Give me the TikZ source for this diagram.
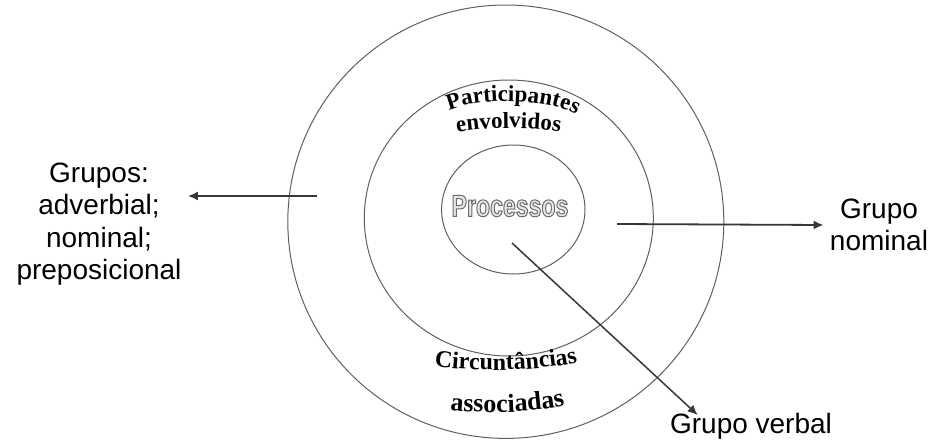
\documentclass[tikz,border=0pt]{standalone}
\usepackage{fontspec}
\newfontfamily\labelfont{Liberation Sans}
\newfontfamily\archfont{Liberation Serif}
\newfontfamily\procfont[FakeStretch=0.75]{Liberation Sans}
\usepackage{xcolor}
\definecolor{RingGray}{RGB}{95,95,95}
\definecolor{ArrowGray}{RGB}{55,55,55}
\definecolor{ProcFill}{RGB}{232,232,232}
\usetikzlibrary{arrows.meta, positioning, calc, decorations.text}

\begin{document}
\begin{tikzpicture}[x=0.5pt, y=-0.5pt,
	ring/.style={draw=RingGray, line width=0.5pt},
	lbl/.style={font=\labelfont\fontsize{14}{16.2}\selectfont, align=center, inner xsep=3pt, inner ysep=1pt},
	arr/.style={draw=ArrowGray, line width=0.9pt, -{Latex[length=5pt, width=4.5pt]}},
	archtext/.style={decorate, decoration={text along path, text align=center, text={#1}}}]
	\useasboundingbox (0,0) rectangle (932,445);
	% rings
	\foreach \cx/\cy/\rx/\ry in {505.8/221.7/218/216.7, 508.8/218/144.5/138, 513.3/209.5/71.7/64.5}{
		\draw[ring] (\cx,\cy) ellipse [x radius=\rx, y radius=\ry];}
	% ring texts
	\path[archtext={|\archfont\bfseries\fontsize{11.5}{13}\selectfont|Participantes}]
		(445,112.5) .. controls (470,97) and (555,97) .. (580,117.5);
	\path[archtext={|\archfont\bfseries\fontsize{11.5}{13}\selectfont|envolvidos}]
		(445,135.5) .. controls (475,125.5) and (550,125.5) .. (572,135.5);
	\path[archtext={|\archfont\bfseries\fontsize{12}{14}\selectfont|Circuntâncias}]
		(430,366) .. controls (470,372) and (540,372) .. (582,361);
	\path[archtext={|\archfont\bfseries\fontsize{13}{15}\selectfont|associadas}]
		(440,409) .. controls (475,414) and (540,414) .. (575,403);
	\node[text=ProcFill, font=\procfont\bfseries\fontsize{15.4}{18}\selectfont] (proc) at (510,206)
		{\special{pdf:literal direct 2 Tr 0.5 w 0.42 0.42 0.42 RG}Processos};
	% labels
	\node[lbl] (grupos) at (99,224) {Grupos:\\ adverbial;\\ nominal;\\ preposicional};
	\node[lbl] (gnom) at (879,225) {Grupo\\ nominal};
	\node[lbl, anchor=base] (gverb) at (751,433) {Grupo verbal};
	% arrows
	\coordinate (ltail) at (317,196);
	\coordinate (rtail) at (617,224);
	\coordinate (dtail) at (512,243);
	\draw[arr] (ltail) -- (grupos.east |- ltail);
	\draw[arr] (rtail) -- (gnom.west);
	\draw[arr, line width=0.75pt] (dtail) -- ([xshift=17pt, yshift=9pt]gverb.base west);
\end{tikzpicture}
\end{document}
